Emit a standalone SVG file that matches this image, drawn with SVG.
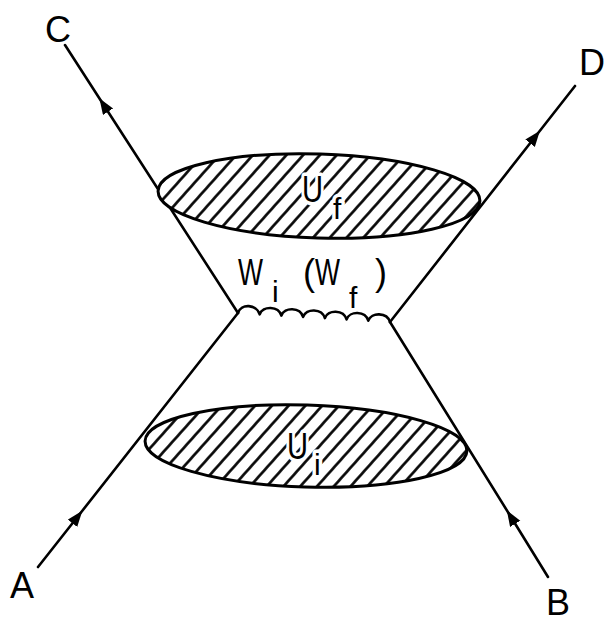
<svg xmlns="http://www.w3.org/2000/svg" width="606" height="623" viewBox="0 0 606 623">
  <style>
    .ln { fill: none; stroke: #000; stroke-width: 2.6; stroke-linecap: round; stroke-linejoin: round; }
    .lbl { font-family: "Liberation Sans", Arial, sans-serif; font-size: 36px; fill: #000; }
    .sub { font-size: 30px; }
    .halo { stroke: #fff; stroke-width: 7px; paint-order: stroke; stroke-linejoin: round; }
    .blob { fill: url(#hatch); stroke: #000; stroke-width: 3; }
  </style>
  <defs>
    <pattern id="hatch" patternUnits="userSpaceOnUse" width="12.5" height="12.5" patternTransform="rotate(40)">
      <rect width="12.5" height="12.5" fill="#fff"/>
      <line x1="6.25" y1="0" x2="6.25" y2="12.5" stroke="#000" stroke-width="2.6"/>
    </pattern>
    <marker id="arr" markerUnits="userSpaceOnUse" markerWidth="18" markerHeight="14" refX="8" refY="6" orient="auto">
      <path d="M0,0 L16,6 L0,12 z" fill="#000"/>
    </marker>
  </defs>
  <rect width="606" height="623" fill="#fff"/>

  <g id="connectors">
    <path class="ln" d="M38,567 L77.4,517 L238,313" marker-mid="url(#arr)"/>
    <path class="ln" d="M548,577 L511,517 L390,322" marker-mid="url(#arr)"/>
    <path class="ln" d="M238,313 L103.7,105 L65,45" marker-mid="url(#arr)"/>
    <path class="ln" d="M390,322 L535,137 L575,86" marker-mid="url(#arr)"/>
  </g>

  <g id="U_f">
    <ellipse class="blob" cx="319" cy="196" rx="161" ry="42" transform="rotate(1.8 319 196)"/>
    <text class="lbl halo"><tspan x="302" y="202" textLength="21" lengthAdjust="spacingAndGlyphs">U</tspan><tspan class="sub" x="333" y="219">f</tspan></text>
  </g>

  <g id="U_i">
    <ellipse class="blob" cx="306" cy="446" rx="161" ry="41" transform="rotate(1.8 306 446)"/>
    <text class="lbl halo"><tspan x="287" y="459" textLength="21" lengthAdjust="spacingAndGlyphs">U</tspan><tspan class="sub" x="314" y="475">i</tspan></text>
  </g>

  <g id="W">
    <path class="ln" stroke-width="3" d="M238,313 C241,303 256.7,304.3 259.7,314.3 C262.7,305.6 278.4,305.6 281.4,315.6 C284.4,306.9 300.1,306.9 303.1,316.9 C306.1,308.1 321.9,308.1 324.9,318.1 C327.9,309.4 343.6,309.4 346.6,319.4 C349.6,310.7 365.3,310.7 368.3,320.7 C371.3,312 387,312 390,322"/>
    <text class="lbl"><tspan x="238" y="285" textLength="25" lengthAdjust="spacingAndGlyphs">W</tspan><tspan class="sub" x="272" y="302">i</tspan><tspan x="303" y="285">(</tspan><tspan x="315" y="285" textLength="25" lengthAdjust="spacingAndGlyphs">W</tspan><tspan class="sub" x="349" y="308">f</tspan><tspan x="375" y="285">)</tspan></text>
  </g>

  <g id="A"><text class="lbl" x="22" y="598" text-anchor="middle">A</text></g>
  <g id="B"><text class="lbl" x="558" y="615" text-anchor="middle">B</text></g>
  <g id="C"><text class="lbl" x="58" y="42" text-anchor="middle">C</text></g>
  <g id="D"><text class="lbl" x="592" y="75" text-anchor="middle">D</text></g>
</svg>
